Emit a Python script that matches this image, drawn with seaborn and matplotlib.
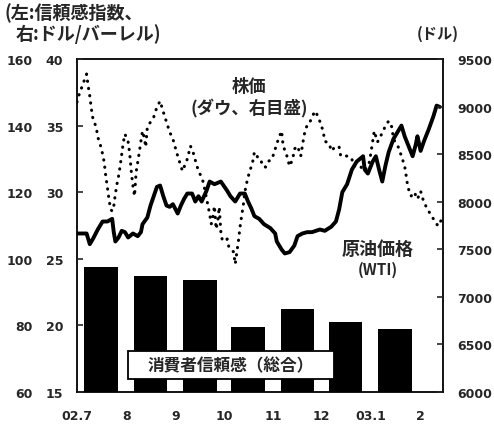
import matplotlib
matplotlib.use("Agg")
import matplotlib.pyplot as plt
import matplotlib.dates as mdates
from matplotlib.patches import Rectangle
import pandas as pd
import seaborn as sns

# ---------------- data ----------------
month_labels = ["02.7", "8", "9", "10", "11", "12", "03.1", "2"]
month_starts = ["2002-07-01", "2002-08-01", "2002-09-01", "2002-10-01",
                "2002-11-01", "2002-12-01", "2003-01-01", "2003-02-01"]

# consumer confidence (monthly, left axis)
conf_months = ["2002-07-16", "2002-08-16", "2002-09-16", "2002-10-16",
               "2002-11-16", "2002-12-16", "2003-01-16"]
confidence = [97.6, 94.7, 93.7, 79.6, 85.0, 81.0, 79.0]

# WTI crude oil, $/barrel (middle axis)
wti_dates = [
    "2002-07-01", "2002-07-07", "2002-07-09", "2002-07-11", "2002-07-14",
    "2002-07-17", "2002-07-20", "2002-07-23", "2002-07-24", "2002-07-25",
    "2002-07-27", "2002-07-29", "2002-07-31", "2002-08-02", "2002-08-05",
    "2002-08-08", "2002-08-10", "2002-08-11", "2002-08-14", "2002-08-16",
    "2002-08-18", "2002-08-20", "2002-08-22", "2002-08-24", "2002-08-26",
    "2002-08-28", "2002-08-30", "2002-09-02", "2002-09-04", "2002-09-06",
    "2002-09-08", "2002-09-11", "2002-09-13", "2002-09-15", "2002-09-17",
    "2002-09-20", "2002-09-22", "2002-09-25", "2002-09-29", "2002-10-03",
    "2002-10-05", "2002-10-08", "2002-10-11", "2002-10-14", "2002-10-16",
    "2002-10-18", "2002-10-20", "2002-10-23", "2002-10-26", "2002-10-30",
    "2002-11-02", "2002-11-03", "2002-11-06", "2002-11-08", "2002-11-11",
    "2002-11-14", "2002-11-16", "2002-11-19", "2002-11-22", "2002-11-25",
    "2002-11-30", "2002-12-03", "2002-12-07", "2002-12-10", "2002-12-12",
    "2002-12-14", "2002-12-17", "2002-12-20", "2002-12-23", "2002-12-27",
    "2002-12-28", "2002-12-30", "2003-01-02", "2003-01-04", "2003-01-06",
    "2003-01-08", "2003-01-10", "2003-01-12", "2003-01-15", "2003-01-18",
    "2003-01-20", "2003-01-22", "2003-01-24", "2003-01-27", "2003-01-29",
    "2003-01-30", "2003-02-01", "2003-02-03", "2003-02-06", "2003-02-09",
    "2003-02-11", "2003-02-13",
]
wti_price = [
    26.9, 26.9, 26.1, 26.5, 27.2,
    27.8, 27.8, 28.0, 27.0, 26.3,
    26.6, 27.1, 27.0, 26.6, 26.9,
    26.7, 27.0, 27.6, 28.1, 29.0,
    29.7, 30.4, 30.5, 29.7, 29.0,
    28.9, 29.1, 28.4, 29.0, 29.5,
    29.9, 29.9, 29.3, 29.7, 29.3,
    30.1, 30.8, 30.6, 30.8, 30.1,
    29.7, 29.3, 29.9, 29.9, 29.3,
    28.8, 28.2, 28.0, 27.6, 27.3,
    26.9, 26.3, 25.7, 25.4, 25.5,
    26.0, 26.7, 26.9, 27.0, 27.0,
    27.2, 27.1, 27.4, 27.8, 28.7,
    30.0, 30.6, 31.7, 32.3, 32.7,
    31.7, 31.4, 32.3, 32.7, 31.7,
    30.8, 32.0, 33.0, 34.0, 34.6,
    35.0, 34.2, 33.6, 32.7, 33.6,
    34.2, 33.1, 33.8, 34.7, 35.7,
    36.5, 36.4,
]

# Dow Jones industrial average, $ (right axis)
dow_dates = [
    "2002-07-01", "2002-07-02", "2002-07-07", "2002-07-08", "2002-07-09",
    "2002-07-10", "2002-07-11", "2002-07-13", "2002-07-14", "2002-07-16",
    "2002-07-17", "2002-07-18", "2002-07-19", "2002-07-20", "2002-07-21",
    "2002-07-22", "2002-07-23", "2002-07-24", "2002-07-25", "2002-07-26",
    "2002-07-27", "2002-07-28", "2002-07-29", "2002-07-30", "2002-07-31",
    "2002-08-02", "2002-08-03", "2002-08-04", "2002-08-05", "2002-08-06",
    "2002-08-07", "2002-08-08", "2002-08-09", "2002-08-10", "2002-08-11",
    "2002-08-12", "2002-08-13", "2002-08-14", "2002-08-16", "2002-08-18",
    "2002-08-20", "2002-08-22", "2002-08-24", "2002-08-26", "2002-08-28",
    "2002-08-30", "2002-09-02", "2002-09-04", "2002-09-05", "2002-09-08",
    "2002-09-10", "2002-09-12", "2002-09-14", "2002-09-16", "2002-09-18",
    "2002-09-22", "2002-09-23", "2002-09-24", "2002-09-25", "2002-09-26",
    "2002-09-27", "2002-09-28", "2002-09-29", "2002-09-30", "2002-10-03",
    "2002-10-04", "2002-10-05", "2002-10-07", "2002-10-08", "2002-10-10",
    "2002-10-11", "2002-10-12", "2002-10-13", "2002-10-14", "2002-10-15",
    "2002-10-16", "2002-10-17", "2002-10-19", "2002-10-20", "2002-10-22",
    "2002-10-24", "2002-10-25", "2002-10-27", "2002-10-29", "2002-10-31",
    "2002-11-02", "2002-11-04", "2002-11-06", "2002-11-07", "2002-11-09",
    "2002-11-11", "2002-11-13", "2002-11-14", "2002-11-16", "2002-11-18",
    "2002-11-20", "2002-11-21", "2002-11-23", "2002-11-24", "2002-11-26",
    "2002-11-27", "2002-11-29", "2002-12-02", "2002-12-03", "2002-12-06",
    "2002-12-07", "2002-12-10", "2002-12-12", "2002-12-13", "2002-12-15",
    "2002-12-18", "2002-12-20", "2002-12-21", "2002-12-25", "2002-12-28",
    "2002-12-31", "2003-01-03", "2003-01-05", "2003-01-07", "2003-01-10",
    "2003-01-12", "2003-01-14", "2003-01-15", "2003-01-18", "2003-01-20",
    "2003-01-22", "2003-01-23", "2003-01-24", "2003-01-26", "2003-01-28",
    "2003-01-30", "2003-02-01", "2003-02-03", "2003-02-06", "2003-02-08",
    "2003-02-10", "2003-02-12", "2003-02-14",
]
dow_index = [
    9048, 9111, 9342, 9216, 9111,
    8975, 8869, 8785, 8680, 8575,
    8501, 8417, 8269, 8153, 8027,
    7922, 7900, 7953, 8080, 8185,
    8269, 8374, 8501, 8627, 8711,
    8627, 8501, 8311, 8164, 8059,
    8311, 8417, 8522, 8638, 8743,
    8680, 8575, 8785, 8838, 8890,
    8995, 9058, 8943, 8838, 8732,
    8659, 8480, 8374, 8322, 8448,
    8585, 8501, 8374, 8290, 8206,
    7871, 7766, 7840, 7955, 7713,
    7787, 7945, 7682, 7587, 7608,
    7524, 7503, 7472, 7345, 7587,
    7734, 7850, 7955, 8101, 8185,
    8259, 8311, 8427, 8522, 8469,
    8448, 8374, 8364, 8427, 8448,
    8554, 8659, 8743, 8585, 8501,
    8374, 8448, 8554, 8585, 8480,
    8690, 8764, 8838, 8848, 8922,
    8953, 8890, 8743, 8638, 8606,
    8533, 8585, 8575, 8480, 8480,
    8480, 8448, 8374, 8376, 8324,
    8418, 8743, 8627, 8690, 8796,
    8848, 8785, 8659, 8575, 8480,
    8374, 8269, 8153, 8059, 8101,
    8027, 8111, 7995, 7900, 7850,
    7787, 7745, 7810,
]

conf_df = pd.DataFrame({"month": mdates.date2num(pd.to_datetime(conf_months)),
                        "confidence": confidence})
wti_df = pd.DataFrame({"date": mdates.date2num(pd.to_datetime(wti_dates)),
                       "price": wti_price})
dow_df = pd.DataFrame({"date": mdates.date2num(pd.to_datetime(dow_dates)),
                       "index": dow_index})
tick_pos = mdates.date2num(pd.to_datetime(month_starts))
x_start = mdates.date2num(pd.Timestamp("2002-07-01"))
x_end = mdates.date2num(pd.Timestamp("2003-02-15"))

# ---------------- figure ----------------
sns.set_style("white")
plt.rcParams["font.family"] = ["Noto Sans CJK JP", "DejaVu Sans"]
W, H = 494, 427
fig = plt.figure(figsize=(W / 100, H / 100), dpi=100)
fig.patch.set_facecolor("white")
ax = fig.add_axes([77 / W, 1 - 393 / H, 366 / W, 333 / H])

num_font = dict(family="DejaVu Sans", weight="bold", size=9)
jp_font = dict(family=["Noto Sans CJK JP", "DejaVu Sans"], weight="bold")

# consumer confidence bars
sns.barplot(data=conf_df, x="month", y="confidence", ax=ax, native_scale=True,
            color="black", saturation=1, width=0.7, errorbar=None,
            edgecolor="black", linewidth=0)
ax.set_ylim(60, 160)
ax.set_xlim(x_start, x_end)
ax.set_yticks([60, 80, 100, 120, 140, 160])
ax.set_yticklabels(["60", "80", "100", "120", "140", "160"], **num_font)
ax.set_xticks(tick_pos)
ax.set_xticklabels(month_labels, **num_font)
ax.tick_params(axis="y", direction="in", length=0, pad=32)
ax.tick_params(axis="x", direction="in", length=3, width=1.2, pad=12)
ax.set_xlabel("")
ax.set_ylabel("")
for s in ax.spines.values():
    s.set_visible(True)
    s.set_linewidth(1.3)
    s.set_color("black")

# WTI crude (middle scale drawn on the left)
ax_wti = ax.twinx()
sns.lineplot(data=wti_df, x="date", y="price", ax=ax_wti, color="black",
             linewidth=2.8, solid_joinstyle="round", estimator=None)
ax_wti.set_ylim(15, 40)
ax_wti.set_xlim(x_start, x_end)
ax_wti.yaxis.set_ticks_position("left")
ax_wti.set_yticks([15, 20, 25, 30, 35, 40])
ax_wti.set_yticklabels(["15", "20", "25", "30", "35", "40"], **num_font)
ax_wti.tick_params(axis="y", direction="in", length=4, width=1.2, pad=10)
ax_wti.set_ylabel("")
for s in ax_wti.spines.values():
    s.set_visible(False)

# Dow (right scale), dotted
ax_dow = ax.twinx()
sns.lineplot(data=dow_df, x="date", y="index", ax=ax_dow, color="black",
             linewidth=2.2, linestyle=(0, (0.1, 2.3)), dash_capstyle="round",
             estimator=None)
ax_dow.set_ylim(6000, 9500)
ax_dow.set_xlim(x_start, x_end)
ax_dow.set_yticks(range(6000, 9501, 500))
ax_dow.set_yticklabels([str(v) for v in range(6000, 9501, 500)], **num_font)
ax_dow.tick_params(axis="y", direction="in", length=4, width=1.2, pad=10)
ax_dow.set_ylabel("")
for s in ax_dow.spines.values():
    s.set_visible(False)


def fx(px):
    return px / W


def fy(py):
    return 1 - py / H


fig.text(fx(4), fy(13), "(左:信頼感指数、", ha="left", va="center",
         fontsize=13, **jp_font)
fig.text(fx(16), fy(34), "右:ドル/バーレル)", ha="left", va="center",
         fontsize=13, **jp_font)
fig.text(fx(417), fy(34), "(ドル)", ha="left", va="center",
         fontsize=11, **jp_font)

fig.text(fx(249), fy(87), "株価", ha="center", va="center",
         fontsize=12.5, **jp_font)
fig.text(fx(249), fy(108), "(ダウ、右目盛)", ha="center", va="center",
         fontsize=12.5, **jp_font)
fig.text(fx(378), fy(249), "原油価格", ha="center", va="center",
         fontsize=13, **jp_font)
fig.text(fx(378), fy(270), "(WTI)", ha="center", va="center",
         fontsize=11, **jp_font)

# legend box for the bars
fig.patches.append(Rectangle((fx(128), fy(380)), (334 - 128) / W, (380 - 352) / H,
                             transform=fig.transFigure, facecolor="white",
                             edgecolor="black", linewidth=1.3, zorder=5))
fig.text(fx(231), fy(366), "消費者信頼感（総合）", ha="center", va="center",
         fontsize=12, zorder=6, **jp_font)

fig.savefig("out.png", dpi=100, facecolor="white")
